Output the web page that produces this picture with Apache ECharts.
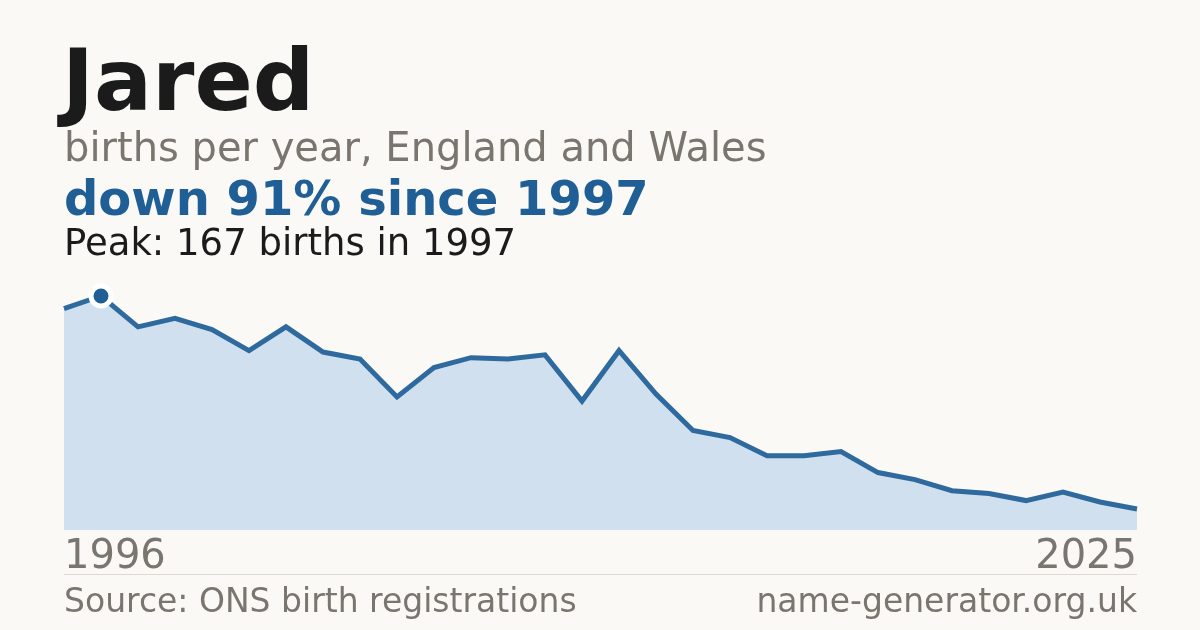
<!DOCTYPE html>
<html><head><meta charset="utf-8">
<script src="https://cdn.jsdelivr.net/npm/echarts@6/dist/echarts.min.js"></script>
<style>html,body{margin:0;padding:0;background:#faf9f5;}#c{width:1200px;height:630px;}</style>
</head><body><div id="c"></div>
<script>
const years = ['1996','1997','1998','1999','2000','2001','2002','2003','2004','2005','2006','2007','2008','2009','2010','2011','2012','2013','2014','2015','2016','2017','2018','2019','2020','2021','2022','2023','2024','2025'];
const births = [158,167,145,151,143,128,145,127,122,95,116,123,122,125,92,128,97,71,66,53,53,56,41,36,28,26,21,27,20,15];
const peakYear = '1997';
const peakValue = 167;
const titleText = 'Jared';
const subtitleText = 'births per year, England and Wales';
const changeText = 'down 91% since 1997';
const peakText = 'Peak: 167 births in 1997';
const sourceText = 'Source: ONS birth registrations';
const siteText = 'name-generator.org.uk';

const F = 'DejaVu Sans';
const chart = echarts.init(document.getElementById('c'), null, {renderer:'canvas'});
chart.setOption({
  backgroundColor:'#faf9f5',
  animation:false,
  title:[
    {text:titleText,left:62,top:45,padding:0,textStyle:{fontFamily:F,fontWeight:'bold',fontSize:86,lineHeight:86,color:'#1b1b1b'}},
    {text:subtitleText,left:64,top:131,padding:0,textStyle:{fontFamily:F,fontWeight:'normal',fontSize:40,lineHeight:40,color:'#7a766f'}},
    {text:changeText,left:64,top:179,padding:0,textStyle:{fontFamily:F,fontWeight:'bold',fontSize:48,lineHeight:48,color:'#1f5f96'}},
    {text:peakText,left:64,top:227,padding:0,textStyle:{fontFamily:F,fontWeight:'normal',fontSize:37,lineHeight:37,color:'#1b1b1b'}},
    {text:sourceText,left:64,top:587,padding:0,textStyle:{fontFamily:F,fontWeight:'normal',fontSize:33,lineHeight:33,color:'#7a766f'}},
    {text:siteText,right:63,top:587,padding:0,textStyle:{fontFamily:F,fontWeight:'normal',fontSize:33,lineHeight:33,color:'#7a766f'}}
  ],
  grid:{left:64,right:63,top:296,bottom:100},
  xAxis:{type:'category',data:years,boundaryGap:false,
    axisLine:{show:false},axisTick:{show:false},splitLine:{show:false},
    axisLabel:{interval:(i)=>i===0||i===years.length-1,fontFamily:F,fontSize:40,lineHeight:40,color:'#7a766f',margin:8,
      alignMinLabel:'left',alignMaxLabel:'right',showMinLabel:true,showMaxLabel:true}},
  yAxis:{type:'value',min:0,max:peakValue,show:false,splitLine:{show:false}},
  graphic:[{type:'line',shape:{x1:64,y1:574.5,x2:1137,y2:574.5},style:{stroke:'#dcd9d2',lineWidth:1},z:1}],
  series:[{type:'line',data:births,symbol:'none',
    lineStyle:{color:'#2e6a9e',width:5,join:'miter'},
    areaStyle:{color:'#d1e0ef',opacity:1},
    markPoint:{symbol:'circle',symbolSize:20,
      itemStyle:{color:'#1f5f96',borderColor:'#ffffff',borderWidth:5},
      label:{show:false},
      data:[{coord:[peakYear,peakValue]}]}
  }]
});
</script></body></html>
